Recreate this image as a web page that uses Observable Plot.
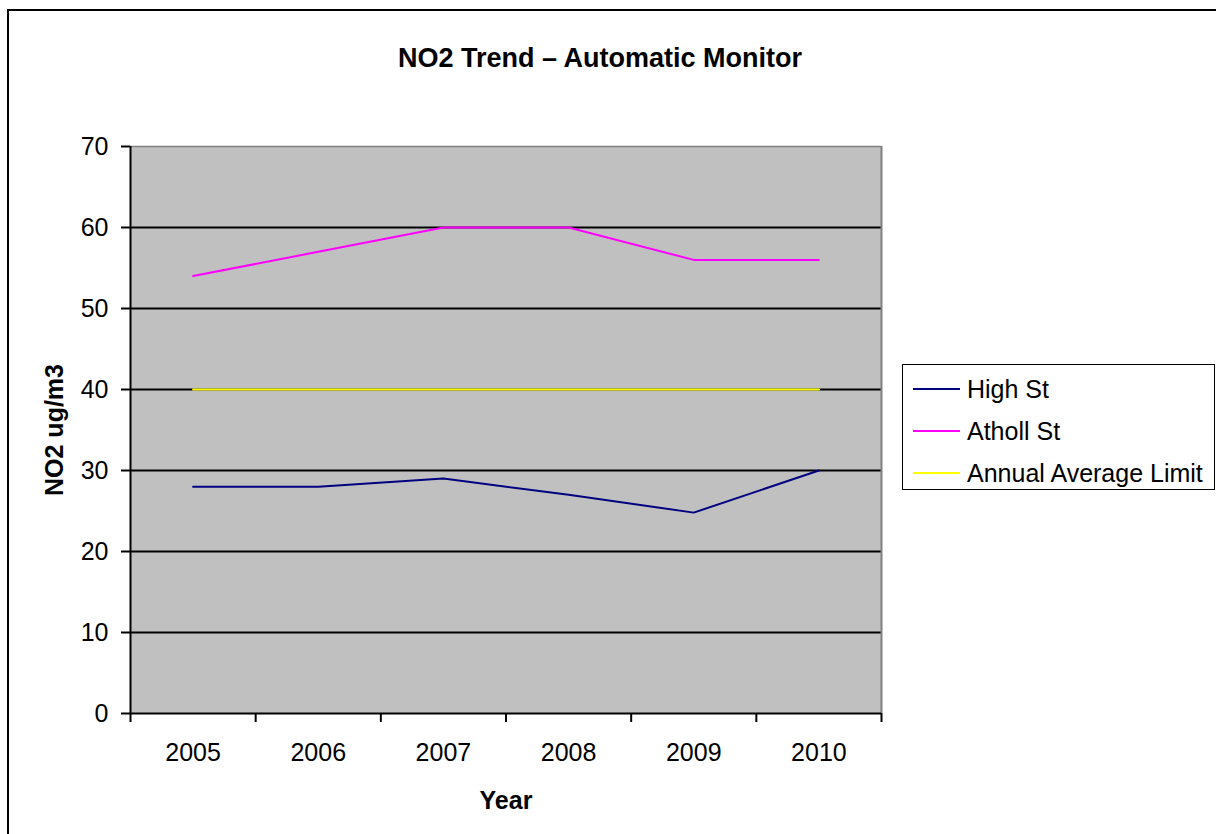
<!DOCTYPE html>
<html>
<head>
<meta charset="utf-8">
<script src="https://cdn.jsdelivr.net/npm/d3@7"></script>
<script src="https://cdn.jsdelivr.net/npm/@observablehq/plot@0.6"></script>
<style>
  html, body { margin: 0; padding: 0; background: #fff; }
  body { font-family: "Liberation Sans", Arial, sans-serif; color: #000; }
  #page { position: relative; width: 1216px; height: 834px; overflow: hidden; background: #fff; }
  #outer { position: absolute; left: 7px; top: 9px; width: 1400px; height: 1000px;
           border: 2.5px solid #000; box-sizing: border-box; pointer-events: none; }
  #title { position: absolute; left: 0; width: 1200px; top: 45px; text-align: center;
           font-size: 27px; line-height: 27px; font-weight: bold; }
  #chart { position: absolute; left: 0; top: 0; }
  #legend { position: absolute; left: 902px; top: 364px; width: 313px; height: 126px;
            border: 1.5px solid #000; box-sizing: border-box; background: #fff; }
  .row { position: absolute; left: 0; height: 30px; display: flex; align-items: center; }
  .swatch { position: absolute; left: 10px; width: 47px; height: 2px; }
  .label { position: absolute; left: 64px; font-size: 25px; white-space: nowrap; line-height: 30px; }
</style>
</head>
<body>
<div id="page">
  <div id="chart"></div>
  <div id="outer"></div>
  <div id="title"></div>
  <div id="legend"></div>
</div>
<script>
// Annual mean NO2 at the automatic monitors (ug/m3)
const years = [2005, 2006, 2007, 2008, 2009, 2010];
const highSt = [28, 28, 29, 27, 24.8, 30];
const athollSt = [54, 57, 60, 60, 56, 56];
const annualLimit = [40, 40, 40, 40, 40, 40];
const yTicks = [0, 10, 20, 30, 40, 50, 60, 70];
const gridValues = [10, 20, 30, 40, 50, 60];

const seriesNames = ["High St", "Atholl St", "Annual Average Limit"];
const seriesColors = ["#000080", "#FF00FF", "#FFFF00"];
const seriesValues = [highSt, athollSt, annualLimit];

const titleText = "NO2 Trend \u2013 Automatic Monitor";
const xTitle = "Year";
const yTitle = "NO2 ug/m3";

const font = "'Liberation Sans', Arial, sans-serif";

// category boundaries, where the x-axis tick marks sit
const bounds = years.map(y => y - 0.5).concat([years[years.length - 1] + 0.5]);

const rows = seriesNames.map((name, s) =>
  years.map((year, i) => ({series: name, year, value: seriesValues[s][i]}))
);

const lineMarks = rows.map((data, s) =>
  Plot.line(data, {x: "year", y: "value", stroke: seriesColors[s], strokeWidth: 2})
);

const chart = Plot.plot({
  width: 1216,
  height: 834,
  marginLeft: 130,
  marginRight: 335,
  marginTop: 146,
  marginBottom: 121,
  style: {fontFamily: font, fontSize: "25px", color: "#000", background: "transparent", overflow: "visible"},
  x: {type: "linear", domain: [bounds[0], bounds[bounds.length - 1]]},
  y: {domain: [0, 70]},
  marks: [
    Plot.frame({fill: "#C0C0C0", stroke: null}),
    Plot.ruleY(gridValues, {stroke: "#000", strokeWidth: 2}),
    Plot.ruleY([70], {stroke: "#808080", strokeWidth: 1.5}),
    Plot.ruleX([bounds[bounds.length - 1]], {stroke: "#808080", strokeWidth: 2}),
    ...lineMarks,
    Plot.ruleX([bounds[0]], {stroke: "#000", strokeWidth: 2}),
    Plot.ruleY([0], {stroke: "#000", strokeWidth: 2}),
    Plot.axisY(yTicks, {tickSize: 9, tickPadding: 13, strokeWidth: 2, fontSize: 25, label: null, tickFormat: d => String(d)}),
    Plot.axisX(bounds, {tickSize: 9, strokeWidth: 2, tickFormat: () => "", label: null}),
    Plot.axisX(years, {tickSize: 0, tickPadding: 30, fontSize: 25, label: null, tickFormat: d => String(d)}),
    Plot.text([xTitle], {frameAnchor: "bottom", lineAnchor: "middle", textAnchor: "middle", dy: 87, fontWeight: "bold", fontSize: 25}),
    Plot.text([yTitle], {frameAnchor: "left", lineAnchor: "middle", textAnchor: "middle", rotate: -90, dx: -76, fontWeight: "bold", fontSize: 25})
  ]
});
document.getElementById("chart").appendChild(chart);

document.getElementById("title").textContent = titleText;

// legend: line swatch followed by the series name
const legend = document.getElementById("legend");
const rowCenters = [24, 66, 108];
seriesNames.forEach((name, s) => {
  const row = document.createElement("div");
  row.className = "row";
  row.style.top = (rowCenters[s] - 15) + "px";
  const sw = document.createElement("div");
  sw.className = "swatch";
  sw.style.background = seriesColors[s];
  const lab = document.createElement("div");
  lab.className = "label";
  lab.textContent = name;
  row.appendChild(sw);
  row.appendChild(lab);
  legend.appendChild(row);
});
</script>
</body>
</html>
